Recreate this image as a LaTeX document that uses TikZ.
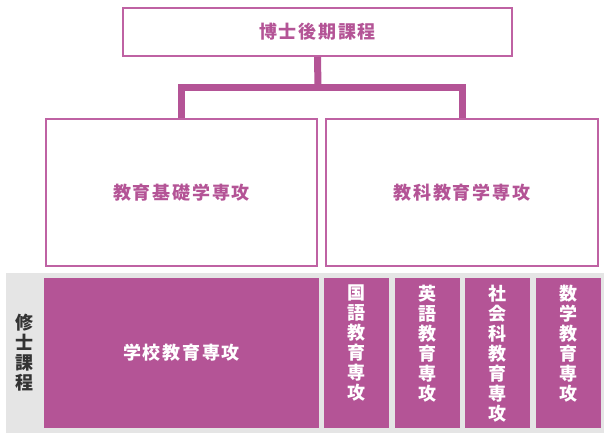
\documentclass[tikz,border=0pt]{standalone}
\usepackage{fontspec}
\newfontfamily\cjk{Noto Sans CJK JP}[LetterSpace=10]
\newfontfamily\cjkv{Noto Sans CJK JP}
\usetikzlibrary{positioning}
\definecolor{plum}{HTML}{B45496}
\definecolor{plumline}{HTML}{BF62A3}
\definecolor{band}{HTML}{E5E5E5}
\definecolor{ink}{HTML}{333333}

\begin{document}
\begin{tikzpicture}[x=1pt, y=-1pt, node distance=5pt]
	\tikzstyle{course}=[draw=plumline, line width=2pt, fill=white, text=plum, inner sep=0pt, font=\cjk\bfseries\fontsize{18}{20}\selectfont]
	\tikzstyle{major}=[fill=plum, text=white, inner sep=0pt, minimum height=150pt, font=\cjk\bfseries\fontsize{18}{20}\selectfont]
	\tikzstyle{vtext}=[text=white, inner sep=0pt, align=center, font=\cjkv\bfseries\fontsize{18}{20}\selectfont]
	\tikzstyle{bar}=[draw=plum, line width=7pt]
	\useasboundingbox (0,0) rectangle (610,440);
	\fill[band] (6,273) rectangle (604,433);
	\node[course, minimum width=389pt, minimum height=48pt] (dr) at (317.5,32) {博士後期課程};
	\node[course, minimum width=271pt, minimum height=147pt] (kiso) at (181.5,192.5) {教育基礎学専攻};
	\node[course, minimum width=272pt, minimum height=147pt] (kyoka) at (462,192.5) {教科教育学専攻};
	\coordinate (fork) at (318,87.5);
	\draw[bar] (dr.south) -- (fork);
	\draw[bar] (kiso.north) |- (fork) -| (kyoka.north);
	\node[major, minimum width=275pt] (gakko) at (181.5,353) {学校教育専攻};
	\node[major, minimum width=65pt, right=of gakko] (kokugo) {};
	\node[major, minimum width=65pt, right=of kokugo] (eigo) {};
	\node[major, minimum width=65pt, right=of eigo] (shakai) {};
	\node[major, minimum width=65pt, right=of shakai] (sugaku) {};
	\node[vtext, anchor=north, yshift=-7pt] (kokugo-t) at (kokugo.north) {国\\語\\教\\育\\専\\攻};
	\node[vtext, anchor=north, yshift=-7pt] (eigo-t) at (eigo.north) {英\\語\\教\\育\\専\\攻};
	\node[vtext, anchor=north, yshift=-7pt] (shakai-t) at (shakai.north) {社\\会\\科\\教\\育\\専\\攻};
	\node[vtext, anchor=north, yshift=-7pt] (sugaku-t) at (sugaku.north) {数\\学\\教\\育\\専\\攻};
	\node[vtext, text=ink] (master) at (25,353) {修\\士\\課\\程};
\end{tikzpicture}
\end{document}
